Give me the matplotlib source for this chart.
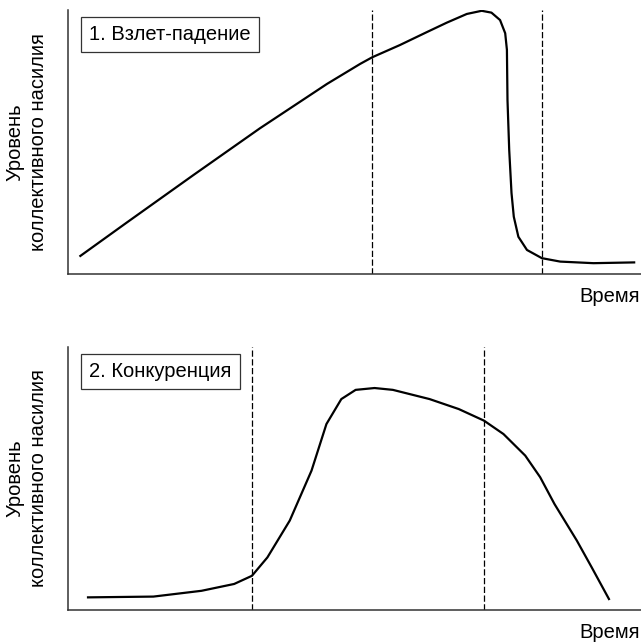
import numpy as np
import matplotlib
matplotlib.use("Agg")
import matplotlib.pyplot as plt

plt.rcParams['font.family'] = ['Liberation Sans', 'DejaVu Sans']

# Panel 1: rise and fall (time and level on a 0..100 scale)
rise_x = [2.0, 10.2, 21.9, 33.5, 45.2, 51.0, 53.1, 57.9, 62.6, 66.1, 69.6, 72.2, 73.9,
          75.4, 76.3, 76.6, 76.7, 77.0, 77.4, 77.8, 78.6, 80.1, 82.7, 85.9, 91.7, 99.0]
rise_y = [6.6, 19.4, 37.5, 55.2, 72.0, 79.6, 82.1, 86.7, 91.6, 95.2, 98.5, 99.7, 99.0,
          96.2, 91.2, 84.9, 65.9, 47.0, 30.7, 21.7, 14.1, 9.1, 6.0, 4.7, 4.1, 4.4]
rise_marks = [53.05, 82.7]

# Panel 2: competition
comp_x = [3.3, 14.9, 23.3, 29.0, 32.1, 34.8, 38.7, 42.5, 45.1, 47.7, 50.2, 53.5,
          56.7, 63.1, 68.2, 72.6, 76.0, 79.8, 82.4, 84.9, 88.8, 91.4, 94.5]
comp_y = [4.8, 5.1, 7.3, 9.9, 13.0, 20.0, 34.0, 53.0, 70.7, 80.2, 83.7, 84.4,
          83.7, 80.2, 76.4, 72.0, 66.9, 58.7, 50.5, 40.3, 26.4, 16.2, 3.8]
comp_marks = [32.1, 72.6]

titles = ["1. Взлет-падение", "2. Конкуренция"]
ylabel = "Уровень\nколлективного насилия"
xlabel = "Время"

fig = plt.figure(figsize=(6.41, 6.43), dpi=100)
W, H = 641, 643
fs = 14.5

# pixel extents of the two panels (top, bottom)
panels = [
    (10, 274, rise_x, rise_y, rise_marks, titles[0]),
    (347, 610, comp_x, comp_y, comp_marks, titles[1]),
]

for top, bottom, xs, ys, marks, title in panels:
    ax = fig.add_axes([68 / W, 1 - bottom / H, (W - 68) / W, (bottom - top) / H])
    ax.plot(xs, ys, color='black', lw=1.6, solid_joinstyle='round', solid_capstyle='butt')
    for m in marks:
        ax.axvline(m, color='black', lw=0.9, linestyle=(0, (5, 2)))
    ax.set_xlim(0, 100)
    ax.set_ylim(0, 100)
    ax.set_xticks([])
    ax.set_yticks([])
    for s in ['top', 'right']:
        ax.spines[s].set_visible(False)
    for s in ['left', 'bottom']:
        ax.spines[s].set_color('#333333')
        ax.spines[s].set_linewidth(1.1)

    # label box in the top left corner
    box_y = (bottom - (top + 24.5)) / (bottom - top)
    ax.text(21 / 573, box_y, title, fontsize=fs, ha='left', va='center',
            transform=ax.transAxes,
            bbox=dict(boxstyle='square,pad=0.42', fc='white', ec='#333333', lw=0.9))

    fig.text(27 / W, 1 - (top + bottom) / 2 / H, ylabel, rotation=90, fontsize=fs,
             ha='center', va='center', linespacing=1.3, multialignment='center')
    fig.text(640 / W, 1 - (bottom + 22) / H, xlabel, fontsize=fs, ha='right', va='center')

plt.savefig("out.png", dpi=100)
